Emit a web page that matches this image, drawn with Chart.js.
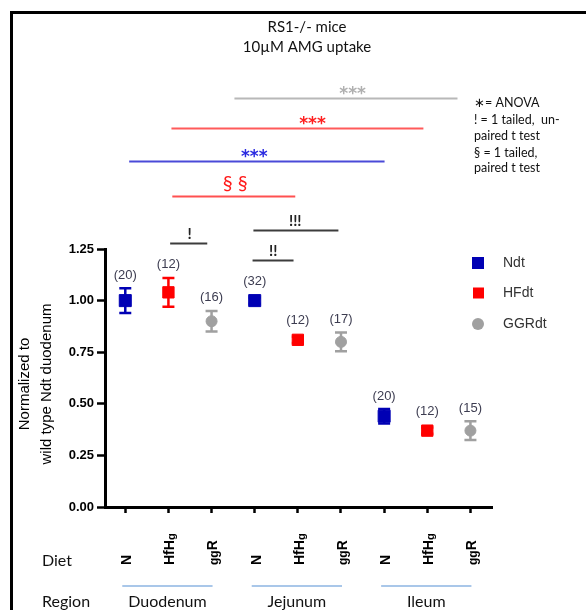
<!DOCTYPE html>
<html>
<head>
<meta charset="utf-8">
<script src="https://cdn.jsdelivr.net/npm/chart.js@4.4.1/dist/chart.umd.min.js"></script>
<style>
  html, body { margin: 0; padding: 0; background: #fff; }
  canvas { display: block; }
</style>
</head>
<body>
<canvas id="myChart" width="586" height="610"></canvas>
<script>
const regions = ['Duodenum', 'Jejunum', 'Ileum'];
const diets = ['N', 'HfHg', 'ggR'];
const seriesNames = ['Ndt', 'HFdt', 'GGRdt'];

const ndtMean = [1.00, 1.00, 0.44];
const ndtErr = [0.06, 0.015, 0.035];
const ndtN = [20, 32, 20];

const hfMean = [1.04, 0.81, 0.37];
const hfErr = [0.07, 0.015, 0.015];
const hfN = [12, 12, 12];

const ggrMean = [0.90, 0.80, 0.37];
const ggrErr = [0.05, 0.045, 0.045];
const ggrN = [16, 17, 15];

const yTicks = [0, 0.25, 0.5, 0.75, 1.0, 1.25];

// significance bars, x in slot units (0..8), level in y units
const sigFrom = [2.53, 1.07, 0.09, 1.09, 2.97, 1.04, 2.95];
const sigTo = [7.70, 6.91, 6.01, 3.94, 4.94, 1.90, 3.90];
const sigMark = [5.27, 4.34, 2.99, 2.55, 3.94, 1.49, 3.43];
const sigLevel = [1.98, 1.836, 1.676, 1.507, 1.342, 1.279, 1.197];
const sigText = ['***', '***', '***', '\u00a7 \u00a7', '!!!', '!', '!!'];

const legendNotes = ['\u2217= ANOVA', '! = 1 tailed,  un-', 'paired t test', '\u00a7 = 1 tailed,', 'paired t test'];

const colors = ['#0000b4', '#ff0000', '#a0a0a0'];
const sigLine = ['#b8b8b8', '#ff5a5a', '#4a4ad8', '#ff5050', '#3c3c3c', '#3c3c3c', '#3c3c3c'];
const sigInk = ['#b0b0b0', '#ff2020', '#2a2ae0', '#ff1a1a', '#222', '#222', '#222'];

const means = [ndtMean, hfMean, ggrMean];
const errs = [ndtErr, hfErr, ggrErr];
const counts = [ndtN, hfN, ggrN];

function points(d) {
  return regions.map((r, i) => ({ x: i * 3 + d, y: means[d][i] }));
}

function rotText(ctx, x, y, parts) {
  ctx.save();
  ctx.translate(x, y);
  ctx.rotate(-Math.PI / 2);
  ctx.textAlign = 'left';
  ctx.textBaseline = 'middle';
  let off = 0;
  for (const p of parts) {
    ctx.font = p[1];
    ctx.fillText(p[0], off, p[2]);
    off += ctx.measureText(p[0]).width;
  }
  ctx.restore();
}

const extras = {
  id: 'extras',
  beforeDraw(chart) {
    const ctx = chart.ctx;
    ctx.save();
    ctx.fillStyle = '#fff';
    ctx.fillRect(0, 0, chart.width, chart.height);
    ctx.strokeStyle = '#000';
    ctx.lineWidth = 3;
    ctx.beginPath();
    ctx.moveTo(11.5, 640);
    ctx.lineTo(11.5, 12.5);
    ctx.lineTo(620, 12.5);
    ctx.stroke();
    ctx.fillStyle = '#333';
    ctx.font = '20px Lato';
    ctx.fillText('g', 33, -3);
    ctx.restore();
  },
  beforeDatasetsDraw(chart) {
    const ctx = chart.ctx;
    const xs = chart.scales.x, ys = chart.scales.y;
    ctx.save();
    ctx.lineWidth = 2.5;
    means.forEach((m, d) => {
      ctx.strokeStyle = colors[d];
      m.forEach((v, i) => {
        const x = xs.getPixelForValue(i * 3 + d);
        const t = ys.getPixelForValue(v + errs[d][i]);
        const b = ys.getPixelForValue(v - errs[d][i]);
        ctx.beginPath();
        ctx.moveTo(x, t); ctx.lineTo(x, b);
        ctx.moveTo(x - 6, t); ctx.lineTo(x + 6, t);
        ctx.moveTo(x - 6, b); ctx.lineTo(x + 6, b);
        ctx.stroke();
      });
    });
    ctx.restore();
  },
  afterDraw(chart) {
    const ctx = chart.ctx;
    const xs = chart.scales.x, ys = chart.scales.y;
    ctx.save();

    // n labels
    ctx.font = '13px Arial';
    ctx.fillStyle = '#3c3c50';
    ctx.textAlign = 'center';
    ctx.textBaseline = 'middle';
    means.forEach((m, d) => {
      m.forEach((v, i) => {
        const x = xs.getPixelForValue(i * 3 + d);
        const top = Math.min(ys.getPixelForValue(v + errs[d][i]), ys.getPixelForValue(v) - 6.5);
        ctx.fillText('(' + counts[d][i] + ')', x, top - 13);
      });
    });

    // significance bars
    sigText.forEach((s, k) => {
      const y = Math.round(ys.getPixelForValue(sigLevel[k])) + 0.5;
      ctx.strokeStyle = sigLine[k];
      ctx.lineWidth = 2;
      ctx.beginPath();
      ctx.moveTo(xs.getPixelForValue(sigFrom[k]), y);
      ctx.lineTo(xs.getPixelForValue(sigTo[k]), y);
      ctx.stroke();
      ctx.fillStyle = sigInk[k];
      const mx = xs.getPixelForValue(sigMark[k]);
      if (s === '***') {
        ctx.font = 'bold 17px DejaVu Sans';
        ctx.fillText(s, mx, y - 4);
      } else if (s.indexOf('\u00a7') >= 0) {
        ctx.font = '20px Lato';
        ctx.fillText(s, mx, y - 13);
      } else {
        ctx.font = 'bold 15px Lato';
        ctx.fillText(s, mx, y - 9);
      }
    });

    // notes
    ctx.fillStyle = '#111';
    ctx.textAlign = 'left';
    ctx.font = '12.5px Lato';
    const noteY = [103, 120, 136, 153, 168];
    legendNotes.forEach((t, k) => ctx.fillText(t, 474, noteY[k]));

    // title
    ctx.textAlign = 'center';
    ctx.font = '15px Lato';
    ctx.fillText('RS1-/- mice', 307, 27);
    ctx.fillText('10\u00b5M AMG uptake', 307, 47);

    // legend
    const legY = [263, 293, 324];
    ctx.fillStyle = colors[0];
    ctx.fillRect(472, legY[0] - 6, 12, 12);
    ctx.fillStyle = colors[1];
    ctx.fillRect(473, legY[1] - 5.5, 11, 11);
    ctx.fillStyle = colors[2];
    ctx.beginPath();
    ctx.arc(478, legY[2], 6, 0, Math.PI * 2);
    ctx.fill();
    ctx.fillStyle = '#333';
    ctx.textAlign = 'left';
    ctx.font = '14px Arial';
    seriesNames.forEach((n, k) => ctx.fillText(n, 503, legY[k]));

    // y axis title
    ctx.fillStyle = '#000';
    ctx.font = '15px Arial';
    ctx.textAlign = 'center';
    [['Normalized to', 25], ['wild type Ndt duodenum', 47]].forEach(([t, x]) => {
      ctx.save();
      ctx.translate(x, 384);
      ctx.rotate(-Math.PI / 2);
      ctx.fillText(t, 0, 0);
      ctx.restore();
    });

    // diet labels
    ctx.fillStyle = '#111';
    ctx.font = '16px Lato';
    ctx.textAlign = 'left';
    ctx.fillText('Diet', 42, 561);
    ctx.fillText('Region', 42, 602);
    ctx.fillStyle = '#000';
    regions.forEach((r, i) => {
      diets.forEach((dt, d) => {
        const x = xs.getPixelForValue(i * 3 + d) + 2;
        let parts;
        if (dt === 'HfHg') parts = [['HfH', 'bold 14px Arial', 0], ['g', 'bold 11px Arial', 2]];
        else if (dt === 'ggR') parts = [['gg', 'bold 12px Arial', 1], ['R', 'bold 14px Arial', 0]];
        else parts = [[dt, 'bold 14px Arial', 0]];
        rotText(ctx, x, 565, parts);
      });
      const x0 = xs.getPixelForValue(i * 3) - 3;
      const x1 = xs.getPixelForValue(i * 3 + 2) + 1;
      ctx.strokeStyle = '#8db4e2';
      ctx.lineWidth = 1.5;
      ctx.beginPath();
      ctx.moveTo(x0, 586); ctx.lineTo(x1, 586);
      ctx.stroke();
      ctx.fillStyle = '#111';
      ctx.textAlign = 'center';
      ctx.font = '16px Lato';
      ctx.fillText(r, (x0 + x1) / 2, 602);
      ctx.fillStyle = '#000';
      ctx.textAlign = 'left';
    });

    ctx.restore();
  }
};

const data = {
  datasets: seriesNames.map((name, d) => ({
    label: name,
    data: points(d),
    backgroundColor: colors[d],
    borderColor: colors[d],
    borderWidth: 1,
    pointStyle: d === 2 ? 'circle' : 'rect',
    pointRadius: d === 0 ? 8.5 : (d === 1 ? 8 : 5.5),
    showLine: false
  }))
};

const config = {
  type: 'scatter',
  data: data,
  options: {
    responsive: false,
    devicePixelRatio: 1,
    animation: false,
    events: [],
    layout: { padding: { left: 45, right: 94, top: 249, bottom: 93 } },
    plugins: { legend: { display: false }, tooltip: { enabled: false } },
    scales: {
      x: {
        type: 'linear',
        min: -0.47,
        max: 8.5,
        afterBuildTicks: s => { s.ticks = [0, 1, 2, 3, 4, 5, 6, 7, 8].map(v => ({ value: v })); },
        afterFit: s => { s.height = 10; },
        ticks: { display: false },
        grid: { drawOnChartArea: false, tickLength: 6, tickWidth: 2.5, color: '#000' },
        border: { width: 3, color: '#000' }
      },
      y: {
        min: 0,
        max: 1.25,
        afterBuildTicks: s => { s.ticks = yTicks.map(v => ({ value: v })); },
        afterFit: s => { s.width = 60; },
        ticks: {
          color: '#000',
          font: { family: 'Arial', size: 13, weight: 'bold' },
          padding: 3,
          callback: v => v.toFixed(2)
        },
        grid: { drawOnChartArea: false, tickLength: 8, tickWidth: 2.5, color: '#000' },
        border: { width: 3, color: '#000' }
      }
    }
  },
  plugins: [extras]
};

let ctx = document.getElementById('myChart').getContext('2d');
new Chart(ctx, config);
</script>
</body>
</html>
